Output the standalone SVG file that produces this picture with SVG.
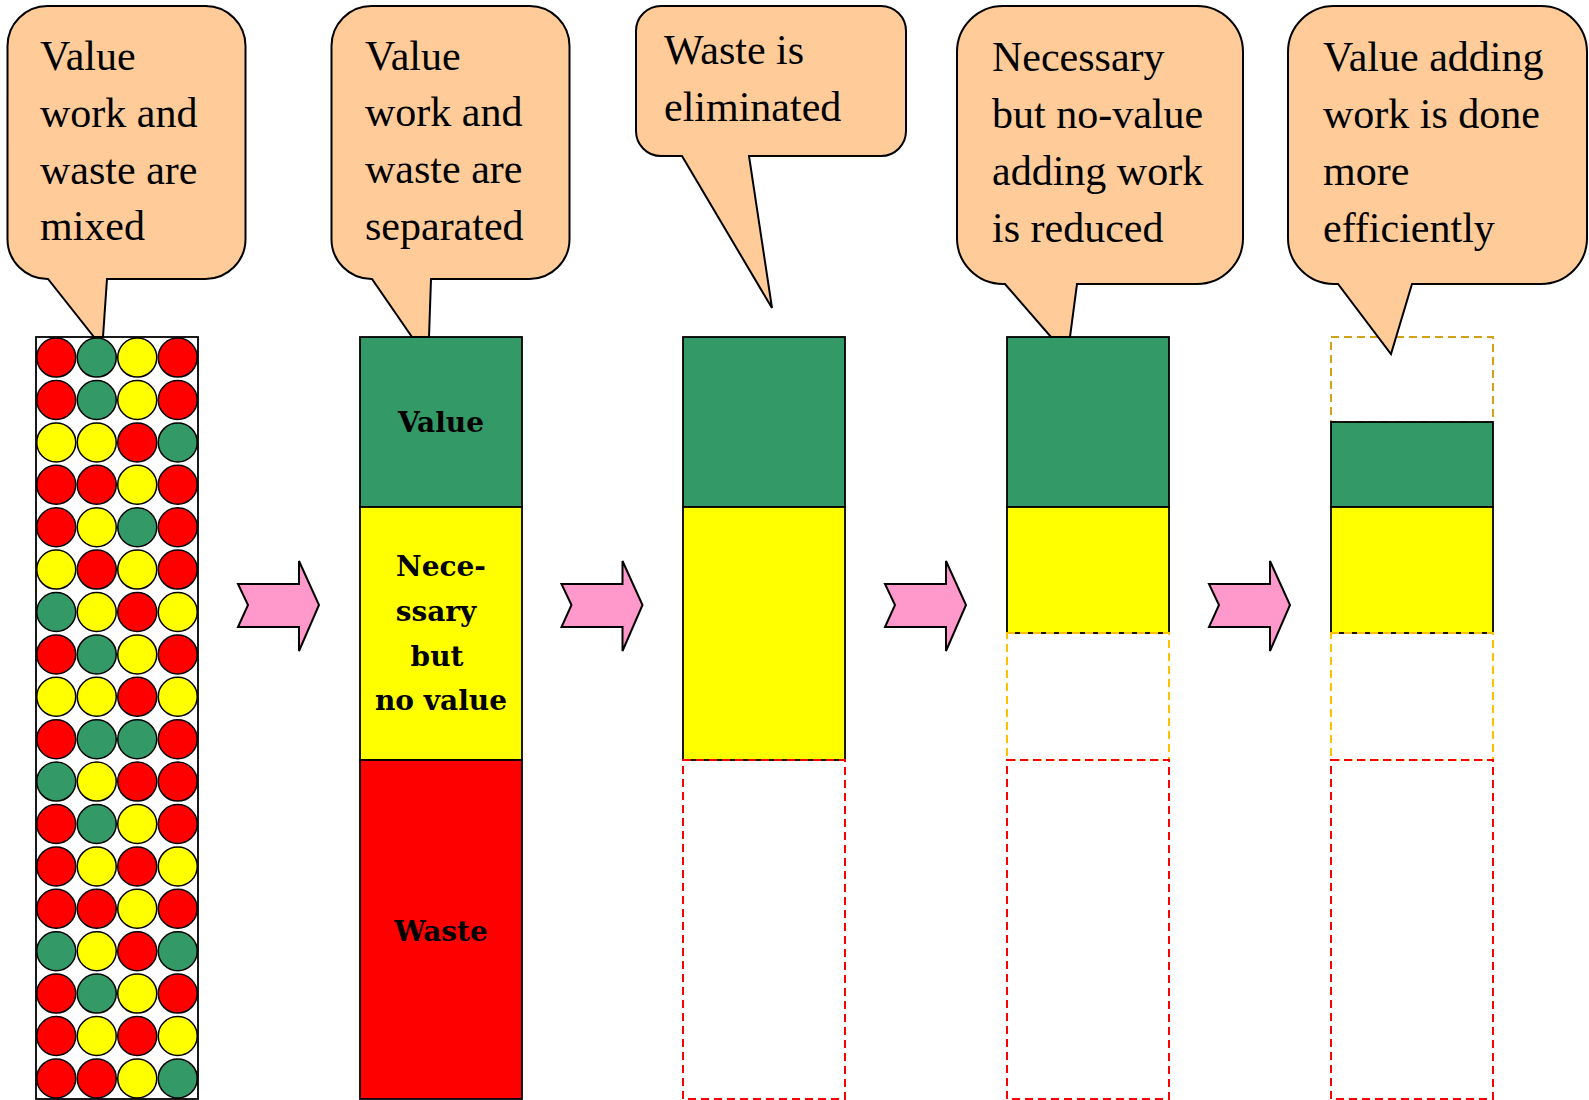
<svg xmlns="http://www.w3.org/2000/svg" width="1589" height="1100" viewBox="0 0 1589 1100">
<style>
.bg{fill:#fff}
.box{stroke:#000;stroke-width:1.8}
.green{fill:#339966}
.yellow{fill:#FFFF00}
.red{fill:#FF0000}
.white{fill:#fff}
.c{stroke:#000;stroke-width:1.5}
.dred{fill:none;stroke:#FF0000;stroke-width:2;stroke-dasharray:8 5}
.dyel{fill:none;stroke:#FFC000;stroke-width:2;stroke-dasharray:8 5}
.dgold{fill:none;stroke:#D4A017;stroke-width:2;stroke-dasharray:8 5}
.callout{fill:#FFCC99;stroke:#000;stroke-width:2;stroke-linejoin:miter}
.ct{font-family:"Liberation Serif","Times New Roman",serif;font-size:42px;fill:#000}
.lbl{font-family:"DejaVu Serif","Liberation Serif",serif;font-weight:bold;font-size:28px;fill:#000;text-anchor:middle}
.arrow{fill:#FF99CC;stroke:#000;stroke-width:2;stroke-linejoin:miter}
</style>
<defs>
<polygon id="chev" points="238,584 299,584 299,561 319,605 299,651 299,627 238,627 248,605"/>
</defs>
<rect class="bg" x="0" y="0" width="1589" height="1100"/>

<g id="col1">
<rect class="box white" x="36" y="337" width="162" height="762"/>
<g class="c">
<circle class="red" cx="56.25" cy="357.6" r="19.5"/><circle class="green" cx="96.75" cy="357.6" r="19.5"/><circle class="yellow" cx="137.25" cy="357.6" r="19.5"/><circle class="red" cx="177.75" cy="357.6" r="19.5"/>
<circle class="red" cx="56.25" cy="400" r="19.5"/><circle class="green" cx="96.75" cy="400" r="19.5"/><circle class="yellow" cx="137.25" cy="400" r="19.5"/><circle class="red" cx="177.75" cy="400" r="19.5"/>
<circle class="yellow" cx="56.25" cy="442.4" r="19.5"/><circle class="yellow" cx="96.75" cy="442.4" r="19.5"/><circle class="red" cx="137.25" cy="442.4" r="19.5"/><circle class="green" cx="177.75" cy="442.4" r="19.5"/>
<circle class="red" cx="56.25" cy="484.8" r="19.5"/><circle class="red" cx="96.75" cy="484.8" r="19.5"/><circle class="yellow" cx="137.25" cy="484.8" r="19.5"/><circle class="red" cx="177.75" cy="484.8" r="19.5"/>
<circle class="red" cx="56.25" cy="527.2" r="19.5"/><circle class="yellow" cx="96.75" cy="527.2" r="19.5"/><circle class="green" cx="137.25" cy="527.2" r="19.5"/><circle class="red" cx="177.75" cy="527.2" r="19.5"/>
<circle class="yellow" cx="56.25" cy="569.6" r="19.5"/><circle class="red" cx="96.75" cy="569.6" r="19.5"/><circle class="yellow" cx="137.25" cy="569.6" r="19.5"/><circle class="red" cx="177.75" cy="569.6" r="19.5"/>
<circle class="green" cx="56.25" cy="612" r="19.5"/><circle class="yellow" cx="96.75" cy="612" r="19.5"/><circle class="red" cx="137.25" cy="612" r="19.5"/><circle class="yellow" cx="177.75" cy="612" r="19.5"/>
<circle class="red" cx="56.25" cy="654.4" r="19.5"/><circle class="green" cx="96.75" cy="654.4" r="19.5"/><circle class="yellow" cx="137.25" cy="654.4" r="19.5"/><circle class="red" cx="177.75" cy="654.4" r="19.5"/>
<circle class="yellow" cx="56.25" cy="696.8" r="19.5"/><circle class="yellow" cx="96.75" cy="696.8" r="19.5"/><circle class="red" cx="137.25" cy="696.8" r="19.5"/><circle class="yellow" cx="177.75" cy="696.8" r="19.5"/>
<circle class="red" cx="56.25" cy="739.2" r="19.5"/><circle class="green" cx="96.75" cy="739.2" r="19.5"/><circle class="green" cx="137.25" cy="739.2" r="19.5"/><circle class="red" cx="177.75" cy="739.2" r="19.5"/>
<circle class="green" cx="56.25" cy="781.6" r="19.5"/><circle class="yellow" cx="96.75" cy="781.6" r="19.5"/><circle class="red" cx="137.25" cy="781.6" r="19.5"/><circle class="red" cx="177.75" cy="781.6" r="19.5"/>
<circle class="red" cx="56.25" cy="824" r="19.5"/><circle class="green" cx="96.75" cy="824" r="19.5"/><circle class="yellow" cx="137.25" cy="824" r="19.5"/><circle class="red" cx="177.75" cy="824" r="19.5"/>
<circle class="red" cx="56.25" cy="866.4" r="19.5"/><circle class="yellow" cx="96.75" cy="866.4" r="19.5"/><circle class="red" cx="137.25" cy="866.4" r="19.5"/><circle class="yellow" cx="177.75" cy="866.4" r="19.5"/>
<circle class="red" cx="56.25" cy="908.8" r="19.5"/><circle class="red" cx="96.75" cy="908.8" r="19.5"/><circle class="yellow" cx="137.25" cy="908.8" r="19.5"/><circle class="red" cx="177.75" cy="908.8" r="19.5"/>
<circle class="green" cx="56.25" cy="951.2" r="19.5"/><circle class="yellow" cx="96.75" cy="951.2" r="19.5"/><circle class="red" cx="137.25" cy="951.2" r="19.5"/><circle class="green" cx="177.75" cy="951.2" r="19.5"/>
<circle class="red" cx="56.25" cy="993.6" r="19.5"/><circle class="green" cx="96.75" cy="993.6" r="19.5"/><circle class="yellow" cx="137.25" cy="993.6" r="19.5"/><circle class="red" cx="177.75" cy="993.6" r="19.5"/>
<circle class="red" cx="56.25" cy="1036" r="19.5"/><circle class="yellow" cx="96.75" cy="1036" r="19.5"/><circle class="red" cx="137.25" cy="1036" r="19.5"/><circle class="yellow" cx="177.75" cy="1036" r="19.5"/>
<circle class="red" cx="56.25" cy="1078.4" r="19.5"/><circle class="red" cx="96.75" cy="1078.4" r="19.5"/><circle class="yellow" cx="137.25" cy="1078.4" r="19.5"/><circle class="green" cx="177.75" cy="1078.4" r="19.5"/>
</g>
</g>

<g id="col2">
<rect class="box green" x="360" y="337" width="162" height="170"/>
<rect class="box yellow" x="360" y="507" width="162" height="253"/>
<rect class="box red" x="360" y="760" width="162" height="339"/>
<text class="lbl" x="441" y="432">Value</text>
<text class="lbl" x="441" y="576">Nece-</text>
<text class="lbl" x="436" y="621">ssary</text>
<text class="lbl" x="437" y="666">but</text>
<text class="lbl" x="441" y="710">no value</text>
<text class="lbl" x="441" y="941">Waste</text>
</g>

<g id="col3">
<rect class="box green" x="683" y="337" width="162" height="170"/>
<rect class="box yellow" x="683" y="507" width="162" height="253"/>
<rect class="dred" x="683" y="760" width="162" height="339"/>
</g>

<g id="col4">
<rect class="box green" x="1007" y="337" width="162" height="170"/>
<rect class="box yellow" x="1007" y="507" width="162" height="126"/>
<rect class="dyel" x="1007" y="633" width="162" height="127"/>
<rect class="dred" x="1007" y="760" width="162" height="339"/>
</g>

<g id="col5">
<rect class="dgold" x="1331" y="337" width="162" height="85"/>
<rect class="box green" x="1331" y="422" width="162" height="85"/>
<rect class="box yellow" x="1331" y="507" width="162" height="126"/>
<rect class="dyel" x="1331" y="633" width="162" height="127"/>
<rect class="dred" x="1331" y="760" width="162" height="339"/>
</g>

<g id="connectors">
<use href="#chev" class="arrow"/>
<use href="#chev" class="arrow" transform="translate(323.5,0)"/>
<use href="#chev" class="arrow" transform="translate(647,0)"/>
<use href="#chev" class="arrow" transform="translate(971,0)"/>
</g>

<g id="callout1">
<path class="callout" d="M47.5,6 H205.5 A40,40 0 0 1 245.5,46 V239 A40,40 0 0 1 205.5,279 H107 L103,337 L94,337 L48,279 H47.5 A40,40 0 0 1 7.5,239 V46 A40,40 0 0 1 47.5,6 Z"/>
<text class="ct" x="40" y="70">Value</text>
<text class="ct" x="40" y="127">work and</text>
<text class="ct" x="40" y="184">waste are</text>
<text class="ct" x="40" y="240">mixed</text>
</g>

<g id="callout2">
<path class="callout" d="M371.5,6 H529.5 A40,40 0 0 1 569.5,46 V239 A40,40 0 0 1 529.5,279 H431 L429,337 L412,337 L372,279 H371.5 A40,40 0 0 1 331.5,239 V46 A40,40 0 0 1 371.5,6 Z"/>
<text class="ct" x="365" y="70">Value</text>
<text class="ct" x="365" y="126">work and</text>
<text class="ct" x="365" y="183">waste are</text>
<text class="ct" x="365" y="240">separated</text>
</g>

<g id="callout3">
<path class="callout" d="M661,6 H881 A25,25 0 0 1 906,31 V131 A25,25 0 0 1 881,156 H749 L772,308 L682,156 H661 A25,25 0 0 1 636,131 V31 A25,25 0 0 1 661,6 Z"/>
<text class="ct" x="664" y="64">Waste is</text>
<text class="ct" x="664" y="121">eliminated</text>
</g>

<g id="callout4">
<path class="callout" d="M1003,6 H1197 A46,46 0 0 1 1243,52 V238 A46,46 0 0 1 1197,284 H1077 L1070,337 L1051,337 L1005,284 H1003 A46,46 0 0 1 957,238 V52 A46,46 0 0 1 1003,6 Z"/>
<text class="ct" x="992" y="71">Necessary</text>
<text class="ct" x="992" y="128">but no-value</text>
<text class="ct" x="992" y="185">adding work</text>
<text class="ct" x="992" y="242">is reduced</text>
</g>

<g id="callout5">
<path class="callout" d="M1334,6 H1541 A46,46 0 0 1 1587,52 V238 A46,46 0 0 1 1541,284 H1412 L1391,354 L1338,284 H1334 A46,46 0 0 1 1288,238 V52 A46,46 0 0 1 1334,6 Z"/>
<text class="ct" x="1323" y="71">Value adding</text>
<text class="ct" x="1323" y="128">work is done</text>
<text class="ct" x="1323" y="185">more</text>
<text class="ct" x="1323" y="242">efficiently</text>
</g>
</svg>
